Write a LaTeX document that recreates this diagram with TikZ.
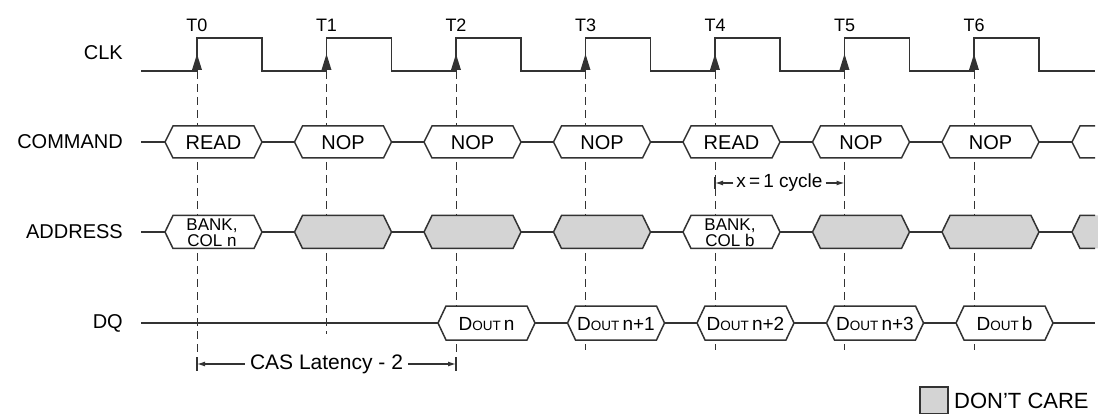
\documentclass[tikz,border=0pt]{standalone}
\usepackage{fontspec}
\setmainfont{Liberation Sans}
\usetikzlibrary{arrows.meta}
\definecolor{ln}{HTML}{333333}
\definecolor{dc}{HTML}{D4D4D4}
\newcommand\hexa[5]{\path[#1] (#2,#4) -- (#2+8,#4-#5) -- (#3-8,#4-#5) -- (#3,#4) -- (#3-8,#4+#5) -- (#2+8,#4+#5) -- cycle;}
\newcommand\dout[1]{\fontsize{19}{20}\selectfont D{\fontsize{13.5}{14}\selectfont OUT}\,#1}
\begin{document}
\begin{tikzpicture}[x=1pt,y=-1pt,line join=miter,
  sig/.style={draw=ln,line width=1.8pt},
  clk/.style={draw=ln,line width=1.5pt},
  boxw/.style={draw=ln,line width=1.5pt,fill=white},
  boxg/.style={draw=ln,line width=1.5pt,fill=dc},
  guide/.style={draw=ln,line width=1pt,dash pattern=on 8pt off 5pt},
  lbl/.style={font=\fontsize{20}{22}\selectfont,text=black,inner sep=0pt},
  tlbl/.style={font=\fontsize{18}{20}\selectfont,text=black,inner sep=0pt},
  small/.style={font=\fontsize{17}{16}\selectfont,text=black,inner sep=0pt,align=center},
  dim/.style={draw=ln,line width=1.2pt},
  dimarrow/.style={draw=ln,line width=1.2pt,-{Latex[length=8pt,width=5pt]}}]
\useasboundingbox (0,0) rectangle (1098,414);

% signal names
\node[lbl,anchor=east] (nclk) at (123,53) {CLK};
\node[lbl,anchor=east] (ncmd) at (123,142) {COMMAND};
\node[lbl,anchor=east] (nadr) at (123,232) {ADDRESS};
\node[lbl,anchor=east] (ndq)  at (123,323) {DQ};

% guide lines
\foreach \k/\e in {0/368,1/334,2/368,3/350,4/350,5/350,6/350}{
  \pgfmathsetmacro\tk{197+129.5*\k}
  \draw[guide] (\tk,71) -- (\tk,\e);
  \node[tlbl] (t\k) at (\tk,25) {T\k};
  \fill[ln] (\tk-5,70) -- (\tk+5,70) -- (\tk,54) -- cycle;
}

% clock
\draw[clk] (141,71) -- (197,71) -- (197,38) -- (262,38) -- (262,71) -- (326.5,71) -- (326.5,38) -- (391.5,38) -- (391.5,71) -- (456,71) -- (456,38) -- (521,38) -- (521,71) -- (585.5,71) -- (585.5,38) -- (650.5,38) -- (650.5,71) -- (715,71) -- (715,38) -- (780,38) -- (780,71) -- (844.5,71) -- (844.5,38) -- (909.5,38) -- (909.5,71) -- (974,71) -- (974,38) -- (1039,38) -- (1039,71) -- (1095,71);

% bus lines
\draw[sig] (141,142) -- (1072,142);
\draw[sig] (141,232) -- (1072,232);
\draw[sig] (141,323) -- (1095,323);

% command row
\foreach \k/\txt in {0/READ,1/NOP,2/NOP,3/NOP,4/READ,5/NOP,6/NOP}{
  \pgfmathsetmacro\tk{197+129.5*\k}
  \hexa{boxw}{\tk-32}{\tk+65}{142}{16}
  \node[lbl] (c\k) at (\tk+16.5,143) {\txt};
}
\draw[draw=ln,line width=1.5pt] (1095,126) -- (1080,126) -- (1072,142) -- (1080,158) -- (1095,158);

% address row
\foreach \k in {1,2,3,5,6}{
  \pgfmathsetmacro\tk{197+129.5*\k}
  \hexa{boxg}{\tk-32}{\tk+65}{232}{16.5}
}
\hexa{boxw}{165}{262}{232}{16.5}
\node[small] (a0) at (212,232.5) {BANK,\\COL n};
\hexa{boxw}{683}{780}{232}{16.5}
\node[small] (a4) at (730,232.5) {BANK,\\COL b};
\fill[dc] (1098,215.5) -- (1080,215.5) -- (1072,232) -- (1080,248.5) -- (1098,248.5) -- cycle;
\draw[draw=ln,line width=1.5pt] (1095,215.5) -- (1080,215.5) -- (1072,232) -- (1080,248.5) -- (1095,248.5);

% DQ row
\foreach \k/\txt in {2/n,3/n+1,4/n+2,5/n+3,6/b}{
  \pgfmathsetmacro\tk{197+129.5*\k}
  \hexa{boxw}{\tk-18}{\tk+79}{323}{17}
  \node[inner sep=0pt] (d\k) at (\tk+30.5,324) {\dout{\txt}};
}

% x = 1 cycle
\node[lbl,font=\fontsize{19}{20}\selectfont] (xc) at (779.5,183) {x\,=\,1 cycle};
\coordinate (x4) at (715,183);
\coordinate (x5) at (844.5,183);
\draw[dimarrow] (xc.west) ++(-3,0) -- (x4);
\draw[dimarrow] (xc.east) ++(3,0) -- (x5);
\draw[dim] (715,177) -- (715,189);
\draw[dim] (844.5,177) -- (844.5,189);

% CAS latency
\node[lbl,font=\fontsize{21}{22}\selectfont] (cas) at (326.5,364) {CAS Latency - 2};
\coordinate (c0) at (197,364);
\coordinate (c2) at (456,364);
\draw[dimarrow] (cas.west) ++(-5,0) -- (c0);
\draw[dimarrow] (cas.east) ++(5,0) -- (c2);
\draw[dim] (197,357) -- (197,371);
\draw[dim] (456,357) -- (456,371);

% legend
\node[draw=ln,line width=2pt,fill=dc,minimum width=28,minimum height=27,inner sep=0pt] (lg) at (934,400) {};
\node[lbl,font=\fontsize{22}{24}\selectfont,anchor=west] (lgt) at (954,401) {DON'T CARE};
\end{tikzpicture}
\end{document}
